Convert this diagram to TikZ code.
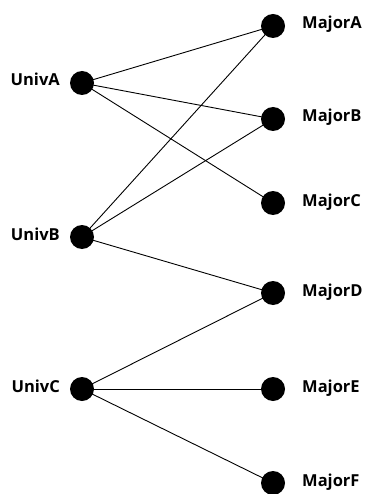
\documentclass[tikz,border=0pt]{standalone}
\usepackage{fontspec}
\setmainfont{Open Sans}
\begin{document}
\begin{tikzpicture}[x=1pt,y=-1pt,
  dot/.style={circle,fill=black,inner sep=0pt,minimum size=24pt},
  lab/.style={font=\bfseries\fontsize{16.5}{18}\selectfont,inner sep=0pt},
  edge/.style={line width=0.9pt}]
\useasboundingbox (0,0) rectangle (364,494);
\node[dot] (UA) at (82,83) {};
\node[dot] (UB) at (82,237) {};
\node[dot] (UC) at (82,389) {};
\node[dot] (MA) at (273,26) {};
\node[dot] (MB) at (273,119) {};
\node[dot] (MC) at (273,203) {};
\node[dot] (MD) at (273,293) {};
\node[dot] (ME) at (273,389) {};
\node[dot] (MF) at (273,483) {};
\node[lab,anchor=base east] (lUA) at (60,86) {UnivA};
\node[lab,anchor=base east] (lUB) at (60,240) {UnivB};
\node[lab,anchor=base east] (lUC) at (60,392) {UnivC};
\node[lab,anchor=base west] (lMA) at (302,29) {MajorA};
\node[lab,anchor=base west] (lMB) at (302,122) {MajorB};
\node[lab,anchor=base west] (lMC) at (302,206) {MajorC};
\node[lab,anchor=base west] (lMD) at (302,296) {MajorD};
\node[lab,anchor=base west] (lME) at (302,392) {MajorE};
\node[lab,anchor=base west] (lMF) at (302,486) {MajorF};
\draw[edge] (UA.center) -- (MA.center);
\draw[edge] (UA.center) -- (MB.center);
\draw[edge] (UA.center) -- (MC.center);
\draw[edge] (UB.center) -- (MA.center);
\draw[edge] (UB.center) -- (MB.center);
\draw[edge] (UB.center) -- (MD.center);
\draw[edge] (UC.center) -- (MD.center);
\draw[edge] (UC.center) -- (ME.center);
\draw[edge] (UC.center) -- (MF.center);
\end{tikzpicture}
\end{document}
